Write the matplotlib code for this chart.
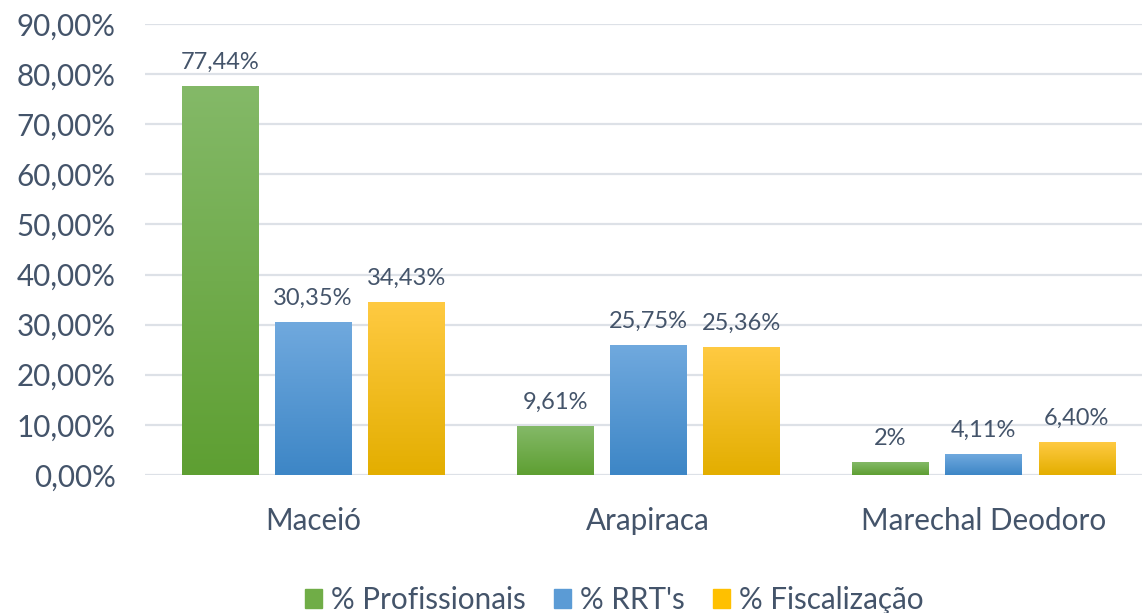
import matplotlib
matplotlib.use("Agg")
import matplotlib.pyplot as plt
import numpy as np
from matplotlib.colors import LinearSegmentedColormap
from matplotlib.patches import Rectangle

categories = ["Maceió", "Arapiraca", "Marechal Deodoro"]
series_names = ["% Profissionais", "% RRT's", "% Fiscalização"]
profissionais = [77.44, 9.61, 2.4]
rrts = [30.35, 25.75, 4.11]
fiscalizacao = [34.43, 25.36, 6.40]
labels_prof = ["77,44%", "9,61%", "2%"]
labels_rrt = ["30,35%", "25,75%", "4,11%"]
labels_fisc = ["34,43%", "25,36%", "6,40%"]
yticks = [0, 10, 20, 30, 40, 50, 60, 70, 80, 90]
ytick_labels = ["0,00%", "10,00%", "20,00%", "30,00%", "40,00%", "50,00%",
                "60,00%", "70,00%", "80,00%", "90,00%"]

grads = [("#84b968", "#5e9f32"), ("#70a9de", "#3d86c6"), ("#ffca42", "#e3ae00")]
mid_colors = ["#70ad47", "#5b9bd5", "#ffc000"]
text_color = "#44546a"
font = "Lato"

fig = plt.figure(figsize=(11.42, 6.13), dpi=100)
ax = fig.add_axes([145.4 / 1142, 138 / 613, 1005.75 / 1142, 451 / 613])
ax.set_xlim(-0.5, 2.5)
ax.set_ylim(0, 90)

x = np.arange(len(categories))
width = 0.227
step = 0.278
series = [profissionais, rrts, fiscalizacao]
labels = [labels_prof, labels_rrt, labels_fisc]

for i, (vals, labs, (top, bot)) in enumerate(zip(series, labels, grads)):
    bars = ax.bar(x + (i - 1) * step, vals, width, color="none", zorder=3)
    cmap = LinearSegmentedColormap.from_list("g%d" % i, [bot, top])
    grad = np.linspace(0, 1, 256).reshape(-1, 1)
    for b, lab in zip(bars, labs):
        bx, by, bw, bh = b.get_x(), b.get_y(), b.get_width(), b.get_height()
        ax.imshow(grad, cmap=cmap, origin="lower", aspect="auto",
                  extent=(bx, bx + bw, by, by + bh), zorder=3, interpolation="bicubic")
        ax.annotate(lab, (bx + bw / 2, by + bh), xytext=(0, 10),
                    textcoords="offset points", ha="center", va="bottom",
                    fontsize=17, color=text_color, family=font)
ax.set_xlim(-0.5, 2.5)
ax.set_ylim(0, 90)

ax.set_yticks(yticks)
ax.set_yticklabels(ytick_labels, fontsize=21.3, color=text_color, family=font)
ax.set_xticks(x)
ax.set_xticklabels(categories, fontsize=21.3, color=text_color, family=font)
ax.tick_params(axis="y", length=0, pad=21.5)
ax.tick_params(axis="x", length=0, pad=23)
ax.yaxis.grid(True, color="#dde1e7", linewidth=1.6, zorder=0)
ax.set_axisbelow(True)
for s in ax.spines.values():
    s.set_visible(False)

handles = [Rectangle((0, 0), 1, 1, color=c) for c in mid_colors]
leg = fig.legend(handles, series_names, loc="lower center", ncol=3,
                 bbox_to_anchor=(0.538, -0.045), frameon=False,
                 prop={"family": font, "size": 21.3}, handlelength=0.58,
                 handleheight=0.58, handletextpad=0.3, columnspacing=0.95)
for t in leg.get_texts():
    t.set_color(text_color)

fig.savefig("out.png", dpi=100)
